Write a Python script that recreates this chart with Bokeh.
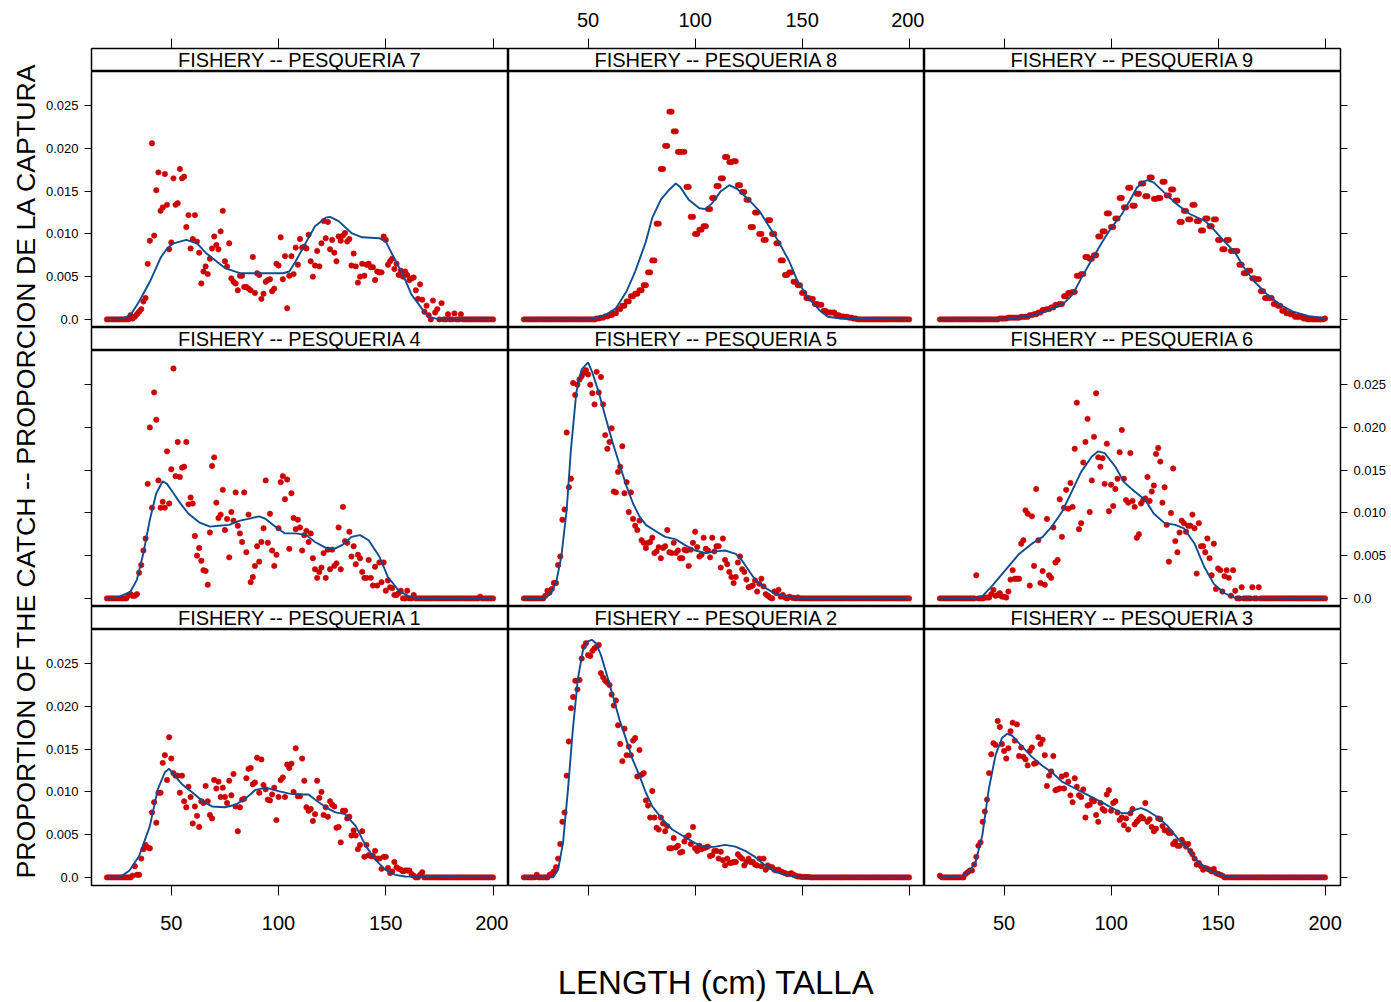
from math import pi
from bokeh.plotting import figure
from bokeh.layouts import row, column
from bokeh.models import Range1d, LinearAxis, FixedTicker, CustomJSTickFormatter, Label
from bokeh.embed import file_html
from bokeh.resources import INLINE

# ---------------- data (proportions x 1000) ----------------
LEN_1CM = list(range(20, 201))        # length bins, 1 cm

P7 = [0,0,0,0,0,0,0,0,0,0,
      0,0.5,0.1,0.3,0.6,0.9,1.2,2.1,2.5,6.5,
      9.2,20.6,9.8,15.1,17.2,12.7,13.1,17.0,13.4,8.2,
      9.0,16.5,13.4,13.6,17.6,16.5,16.7,10.8,12.2,8.3,
      9.4,12.2,9.1,7.8,4.2,5.6,6.2,5.3,7.1,8.3,
      9.7,8.7,8.2,10.3,12.7,6.8,6.2,8.9,4.8,4.4,
      4.2,3.4,5.1,5.1,3.8,3.8,3.6,3.4,7.3,3.1,
      5.4,5.2,2.4,3.0,4.4,4.6,4.7,3.3,3.6,6.5,
      6.3,9.6,4.7,7.4,1.3,5.1,7.4,5.3,8.4,6.4,
      9.4,8.4,8.5,8.3,9.9,6.8,5.0,6.3,8.0,6.2,
      8.9,11.5,9.5,11.4,8.2,9.3,7.8,6.8,9.7,9.2,
      9.8,10.1,9.1,9.4,6.3,7.7,6.2,4.3,5.0,6.5,
      5.1,6.4,6.5,6.1,6.1,4.6,5.6,5.5,5.5,9.7,
      9.3,6.4,6.8,7.1,5.9,6.5,5.2,5.7,5.0,5.6,
      5.2,4.6,4.8,4.9,3.4,2.4,4.1,2.3,0.9,1.6,
      0.5,0,2.2,0.8,1.2,0,1.9,0,0,0.6,
      0,0,0.7,0,0,0.6,0,0,0,0,
      0,0,0,0,0,0,0,0,0,0,
      0]

P8 = [0,0,0,0,0,0,0,0,0,0,
      0,0,0,0,0,0,0,0,0,0,
      0,0,0,0,0,0,0,0,0,0,
      0,0,0,0,
      0.1,0.1,0.2,0.2,0.35,0.35,0.5,0.5,0.7,0.7,1.2,1.2,1.6,1.6,2.1,2.1,2.7,2.7,3.0,3.0,
      3.4,3.4,4.0,4.0,5.5,5.5,6.9,6.9,11.2,11.2,17.6,17.6,20.3,20.3,24.3,24.3,22.0,22.0,19.6,19.6,
      19.6,19.6,15.5,15.5,12.0,12.0,10.0,10.0,10.5,10.5,10.9,10.9,12.9,12.9,14.2,14.2,15.6,15.6,16.5,16.5,
      19.0,19.0,18.4,18.4,18.5,18.5,15.7,15.7,14.9,14.9,14.0,14.0,10.8,10.8,12.5,12.5,10.0,10.0,9.3,9.3,
      11.6,11.6,10.0,10.0,8.9,8.9,6.9,6.9,5.2,5.2,5.5,5.5,4.4,4.4,4.0,4.0,3.1,3.1,2.5,2.5,
      2.4,2.4,1.8,1.8,1.7,1.7,1.0,1.0,0.8,0.8,0.8,0.8,0.5,0.5,0.35,0.35,0.3,0.3,0.2,0.2,
      0.1,0.1,
      0,0,0,0,0,0,0,0,0,0,0,0,0,0,0,0,0,0,0,0,0,0,0,0,0]

P9 = [0,0,0,0,0,0,0,0,0,0,
      0,0,0,0,0,0,0,0,0,0,
      0,0,0,0,0,0,0,0,
      0.1,0.1,0.1,0.1,0.2,0.2,0.2,0.2,0.2,0.2,0.3,0.3,0.3,0.3,0.5,0.5,0.6,0.6,0.8,0.8,
      1.1,1.1,1.2,1.2,1.4,1.4,1.7,1.7,1.8,1.8,2.7,2.7,3.1,3.1,3.2,3.2,5.1,5.1,5.3,5.3,
      7.3,7.3,7.1,7.1,7.5,7.5,9.7,9.7,10.3,10.3,12.4,12.4,10.8,10.8,11.8,11.8,14.2,14.2,13.1,13.1,
      15.4,15.4,13.3,13.3,14.7,14.7,15.9,15.9,14.4,14.4,16.6,16.6,14.1,14.1,14.2,14.2,16.1,16.1,14.5,14.5,
      15.2,15.2,13.9,13.9,11.4,11.4,12.7,12.7,11.7,11.7,13.4,13.4,11.5,11.5,10.4,10.4,11.8,11.8,10.9,10.9,
      11.7,11.7,9.3,9.3,8.2,8.2,9.3,9.3,8.0,8.0,8.0,8.0,6.4,6.4,5.4,5.4,5.7,5.7,4.8,4.8,
      4.7,4.7,3.3,3.3,2.5,2.5,2.5,2.5,1.8,1.8,1.6,1.6,1.0,1.0,0.7,0.7,0.6,0.6,0.3,0.3,
      0.3,0.3,0.1,0.1,0,0,0,0,0,0,0,0,
      0.1]

P4 = [0,0,0,0,0,0,0,0,0,0,
      0.3,0.5,0.3,0.3,0.5,3.0,3.9,5.6,7.0,13.4,
      20.0,10.6,24.1,20.9,13.8,10.6,11.3,10.6,17.2,11.1,
      15.1,26.9,14.3,18.3,14.2,15.3,15.4,18.3,11.0,11.8,
      11.1,7.3,5.0,5.9,4.4,3.3,3.2,1.6,7.7,15.5,
      16.5,11.2,9.4,9.8,12.7,8.0,9.3,4.8,10.1,9.1,
      12.4,8.5,7.6,6.6,12.4,5.4,9.8,1.9,2.5,3.8,
      6.1,4.3,6.6,8.2,13.8,6.5,9.9,5.6,3.8,5.1,
      8.2,13.6,14.3,11.6,13.9,5.8,12.3,9.4,8.1,9.2,
      8.3,5.6,7.4,7.9,6.6,7.6,4.7,3.4,2.4,3.1,
      3.6,5.3,2.4,5.7,3.4,5.7,3.8,4.1,8.3,3.4,
      10.7,6.7,6.5,7.8,4.9,6.1,4.0,5.1,4.7,3.1,
      2.4,2.4,4.5,2.4,1.5,3.7,1.5,4.2,1.9,4.2,
      0.9,2.1,1.3,1.2,0.4,0.4,0.6,0.9,0,0,
      0.9,0,0,0.4,0,0,0,0,0,0,
      0,0,0,0,0,0,0,0,0,0,
      0,0,0,0,0,0,0,0,0,0,
      0,0,0,0,0.2,0,0,0,0,0,
      0]

P5 = [0,0,0,0,0,0,0,0,0,0,
      0.3,0.9,0.7,1.1,1.8,1.8,3.9,4.9,9.2,10.4,
      19.4,13.0,14.0,25.2,23.8,25.0,25.6,26.0,26.4,26.7,
      26.2,25.0,24.0,22.7,26.5,24.1,25.9,22.7,19.1,17.5,
      18.3,19.9,12.5,12.4,14.8,15.4,17.8,12.3,13.6,10.1,
      12.4,9.3,8.5,8.0,9.1,6.8,6.5,5.9,6.5,6.6,
      7.1,5.3,5.5,6.0,4.7,5.9,6.1,8.0,5.4,5.3,
      6.5,5.3,5.6,4.7,4.7,5.7,5.6,3.8,5.7,6.5,
      7.8,6.0,4.9,5.1,7.1,5.8,5.6,4.8,7.1,5.5,
      6.1,6.1,3.6,7.0,4.5,4.0,3.1,2.5,1.8,2.5,
      4.2,4.9,3.4,3.1,2.2,1.3,1.4,1.5,2.1,0.8,
      1.7,2.3,1.4,0.5,0.3,0.1,0,0.8,0.6,1.0,
      0.2,0.4,0.1,0,0.2,0.1,0.05,0,0.1,0,
      0,0,0,0,0,0,0,0,0,0,
      0,0,0,0,0,0,0,0,0,0,
      0,0,0,0,0,0,0,0,0,0,
      0,0,0,0,0,0,0,0,0,0,
      0,0,0,0,0,0,0,0,0,0,
      0]

P6 = [0,0,0,0,0,0,0,0,0,0,
      0,0,0,0,0,0,0,2.7,0,0,
      0,0.1,0.1,0.1,0.5,1.0,0.3,0.4,0.6,0.2,
      0.2,0.1,0.8,2.2,3.3,2.3,2.3,2.3,6.4,6.8,
      10.3,9.9,1.5,9.6,3.8,12.8,6.8,1.8,3.2,1.6,
      9.3,2.7,2.4,8.3,4.2,4.5,11.6,7.2,10.6,12.7,
      10.5,13.5,10.7,17.5,22.9,8.1,8.8,15.9,18.3,21.0,
      10.1,13.8,18.9,24.0,16.5,15.4,16.4,13.4,18.1,10.2,
      13.3,10.8,12.8,14.0,17.1,19.7,14.0,11.5,11.2,17.0,
      11.4,10.7,7.1,7.5,11.1,11.5,11.7,14.2,11.4,12.5,
      13.2,16.9,17.6,16.0,11.2,13.0,8.6,4.3,10.0,15.2,
      6.7,5.4,7.7,9.1,8.8,7.8,8.5,8.5,9.8,8.2,
      2.9,8.8,6.1,6.1,5.4,7.0,4.7,2.7,6.4,1.1,
      3.5,3.3,0.8,2.6,3.3,2.4,0.3,3.3,0.9,0,
      0,1.3,0,0,0,0,1.3,0,0,1.3,
      0,0,0,0,0,0,0,0,0,0,
      0,0,0,0,0,0,0,0,0,0,
      0,0,0,0,0,0,0,0,0,0,
      0]

P1 = [0,0,0,0,0,0,0,0,0,0,
      0,0,0.2,1.3,0.3,0.3,2.2,3.3,3.8,3.5,
      3.4,7.6,8.8,6.4,9.9,9.9,13.4,14.3,11.4,16.4,
      13.9,12.2,11.9,11.9,9.9,11.9,8.9,8.2,10.6,9.4,
      6.3,8.3,7.2,5.9,8.9,8.7,10.7,8.9,7.3,6.9,
      11.4,10.4,11.2,9.4,10.5,9.4,8.7,11.3,9.6,12.1,
      8.3,5.4,8.2,9.1,9.2,11.6,12.7,12.8,10.9,11.1,
      14.0,9.9,13.8,10.8,10.3,9.1,9.0,9.7,10.5,6.7,
      9.4,11.4,11.7,9.4,13.2,12.8,13.3,10.0,15.1,9.5,
      9.5,13.9,11.3,8.2,7.8,8.0,6.6,7.4,11.3,9.3,
      10.0,7.3,8.2,7.1,8.9,8.5,8.3,5.8,5.9,4.1,
      7.8,7.8,6.9,7.1,4.9,5.5,4.9,3.3,3.8,5.4,
      2.4,3.8,2.6,2.5,2.5,3.1,2.2,2.2,1.0,2.4,
      2.4,1.1,0.5,0.7,1.8,1.2,1.0,0.9,0.7,0.8,
      0.8,0.8,0.4,0.2,0,0,0.3,0.6,0,0,
      0,0,0,0,0,0,0,0,0,0,
      0,0,0,0,0,0,0,0,0,0,
      0,0,0,0,0,0,0,0,0,0,
      0]

P2 = [0,0,0,0,0,0,0.3,0,0,0,
      0,0,0.3,0.4,0.7,1.2,2.2,3.9,6.5,7.6,
      11.9,15.9,19.8,21.1,23.0,22.0,23.1,25.6,27.0,27.4,
      26.0,25.9,26.5,26.8,27.0,27.2,23.9,23.4,23.0,22.8,
      22.5,21.4,20.1,20.7,17.8,15.6,13.6,17.4,14.3,15.3,
      14.3,16.0,16.3,11.8,14.9,12.0,12.2,9.0,8.4,7.0,
      10.1,7.0,5.8,5.6,7.0,6.3,5.4,6.0,3.4,3.4,
      4.6,3.5,3.7,2.9,3.0,4.2,4.7,4.9,3.9,5.9,
      3.4,3.1,3.7,3.3,3.4,3.5,3.6,2.5,2.6,3.1,
      3.1,2.2,3.0,2.0,1.4,2.2,1.7,1.7,1.8,1.8,
      2.7,2.4,2.2,1.4,1.8,2.2,1.8,1.8,1.5,1.4,
      2.2,1.3,2.2,0.9,1.4,1.2,1.2,0.9,0.8,0.9,
      0.7,0.6,0.5,0.4,0.4,0.5,0.3,0.2,0.1,0.1,
      0.05,0.05,0.05,0.05,0,0,0,0,0,0,
      0,0,0,0,0,0,0,0,0,0,
      0,0,0,0,0,0,0,0,0,0,
      0,0,0,0,0,0,0,0,0,0,
      0,0,0,0,0,0,0,0,0,0,
      0]

P3 = [0.2,0,0,0,0,0,0,0,0,0,
      0,0,0.4,0.6,0.8,0.8,1.5,2.4,3.7,4.1,
      6.5,7.7,9.1,12.2,14.4,15.7,15.5,18.3,17.6,15.6,
      14.8,13.9,15.1,17.1,18.1,16.0,17.9,14.2,15.2,14.1,
      13.8,13.1,14.8,15.2,13.3,13.4,16.4,15.6,16.1,14.3,
      10.7,11.9,12.4,14.2,10.2,10.3,10.4,11.8,10.4,12.0,
      11.2,9.6,8.8,11.6,10.6,9.6,9.4,10.3,7.0,8.4,
      8.5,9.1,8.9,7.3,6.5,8.7,8.0,7.8,9.7,10.2,
      7.8,8.7,8.9,7.6,6.7,7.0,6.1,6.9,5.6,7.5,
      8.0,6.2,6.5,6.8,7.1,6.9,8.7,6.5,6.8,5.9,
      5.4,5.7,6.9,6.8,6.0,5.5,5.5,5.2,5.2,3.9,
      4.2,3.7,3.7,4.4,4.0,3.6,3.9,3.1,2.7,2.2,
      1.5,1.7,1.3,0.9,1.1,1.0,0.9,0.7,1.0,0.5,
      0.4,0.3,0.2,0,0,0,0,0,0,0,
      0,0,0,0,0,0,0,0,0,0,
      0,0,0,0,0,0,0,0,0,0,
      0,0,0,0,0,0,0,0,0,0,
      0,0,0,0,0,0,0,0,0,0,
      0]

# fitted curves (length, proportion x 1000)
C7X = [20,26,31,35,40,45,48,51,57,62,66,71,75,82,91,102,105,108,113,117,122,124,128,134,139,147,150,153,158,162,167,170,175,200]
C7Y = [0,0,0.5,2.1,4.4,7.2,8.3,8.9,9.3,8.9,7.8,6.8,6.0,5.4,5.4,5.4,5.6,6.8,9.1,10.9,11.9,12.0,11.5,10.1,9.6,9.5,9.1,7.6,5.2,2.9,1.2,0.3,0,0]
C8X = [20,51,58,63,68,72,77,80,84,88,91,93,97,102,105,108,112,116,120,125,130,134,139,144,148,153,158,162,168,200]
C8Y = [0,0,0.5,1.3,3.3,5.6,9.1,11.9,14.0,15.2,15.9,15.5,14.0,13.0,12.9,13.6,15.0,15.7,15.2,14.0,12.7,11.1,9.1,6.8,4.4,2.5,1.1,0.3,0.1,0]
C9X = [20,51,60,68,74,78,82,86,91,96,100,105,109,112,115,117,120,125,131,137,144,148,153,158,162,167,173,179,185,192,200]
C9Y = [0,0,0.3,0.8,1.4,1.9,2.9,4.8,7.0,9.1,10.7,12.3,14.0,15.4,16.1,16.3,16.0,14.8,13.4,12.3,11.5,10.5,9.1,7.8,6.1,4.4,2.9,1.7,0.9,0.4,0.1]
C4X = [20,26,31,34,37,40,43,46,48,51,54,58,63,68,72,77,82,86,91,94,99,103,108,113,117,122,126,130,134,138,142,147,151,156,161,165,200]
C4Y = [0,0.2,0.8,2.2,5.3,9.2,12.3,13.7,13.4,12.3,11.2,9.9,8.9,8.4,8.5,8.6,9.1,9.3,9.6,9.3,8.3,7.6,7.6,7.4,6.6,5.9,5.8,6.3,7.2,7.4,6.8,4.9,2.5,0.9,0.2,0,0]
C5X = [20,29,32,35,37.5,40,42,44.5,47,50,52,55,58,61.5,65,68,71,74,77,82,86,91,95.5,100,105,109.5,114,119,122,125,128,133,137,142,148,200]
C5Y = [0,0,0.4,1.8,4.9,10.4,17.5,24.1,26.8,27.6,26.4,24.1,21.3,18.2,15.4,13.1,11.1,9.6,8.6,7.8,7.2,6.9,6.2,5.6,5.3,5.5,5.6,5.2,4.4,3.3,2.2,1.2,0.6,0.3,0,0]
C6X = [20,36,40,44.5,50.6,57,63,68,72,77,82,86,91,94,97,102,106,111,116,120,125,130,134,139,143.5,148,153,157.5,200]
C6Y = [0,0,0.3,1.5,3.3,5.2,6.4,7.2,8.3,10.1,12.7,14.8,16.6,17.2,17.0,15.4,13.6,12.5,11.5,9.9,8.8,8.6,8.2,6.4,3.7,1.7,0.6,0.1,0]
C1X = [20,26,30.5,35,40,43.7,47,49,51.5,55,60,64.6,69,75,80,85,89,94,100,105,109.5,114,117,122,126.5,131,136,140.4,145,149.7,154.4,159,200]
C1Y = [0,0,0.8,2.5,6.0,10.3,12.3,12.7,11.9,10.9,9.9,8.9,8.3,8.2,8.5,9.3,10.2,10.5,10.1,9.8,9.7,9.7,9.1,8.2,7.6,7.4,6.0,3.8,2.1,0.9,0.3,0.1,0]
C2X = [20,33.6,36,38.3,40.6,42.9,45.2,47.6,49.9,51.7,53.7,56,58.4,61.5,64.6,67.7,70.8,74,77,80,84.7,89.3,94,100,104.8,109.5,114,118.8,123.4,128,132.7,137.3,142,148,200]
C2Y = [0,0,0.9,4.1,10.3,17.4,23.2,26.6,27.6,27.8,27.4,26.0,24.0,21.3,18.5,16.2,13.8,11.9,9.9,8.3,6.8,5.6,4.9,4.0,3.5,3.6,3.8,3.6,3.1,2.4,1.4,0.7,0.3,0,0]
C3X = [20,30.5,33.6,36.7,39.8,42.9,46,49,51.4,53.7,58.4,63,67.7,72.3,77,81.6,86.3,91,95.5,100,105,108,111,114,117,122,126.5,131,136,140.4,145,150,154.4,160,200]
C3Y = [0,0.2,0.6,1.8,4.9,10.4,14.3,16.3,16.8,16.6,15.3,14.1,13.1,12.3,11.2,10.6,10.0,9.4,8.8,8.2,7.5,7.5,7.9,8.1,7.8,7.0,6.0,4.6,3.3,1.9,0.9,0.4,0.1,0,0]

X_TICKS = [50, 100, 150, 200]
Y_TICKS = [0.0, 0.005, 0.010, 0.015, 0.020, 0.025]
STRIP_TEXT = "FISHERY -- PESQUERIA "
X_TITLE = "LENGTH (cm) TALLA"
Y_TITLE = "PROPORTION OF THE CATCH -- PROPORCION DE LA CAPTURA"

PANELS = {
    7: (LEN_1CM, P7, C7X, C7Y), 8: (LEN_1CM, P8, C8X, C8Y), 9: (LEN_1CM, P9, C9X, C9Y),
    4: (LEN_1CM, P4, C4X, C4Y), 5: (LEN_1CM, P5, C5X, C5Y), 6: (LEN_1CM, P6, C6X, C6Y),
    1: (LEN_1CM, P1, C1X, C1Y), 2: (LEN_1CM, P2, C2X, C2Y), 3: (LEN_1CM, P3, C3X, C3Y),
}
for k, (lx, ly, cx, cy) in PANELS.items():
    assert len(lx) == len(ly), (k, len(lx), len(ly))
    assert len(cx) == len(cy), (k, len(cx), len(cy))

GRID = [[7, 8, 9], [4, 5, 6], [1, 2, 3]]

# ---------------- style / geometry ----------------
FONT = "Liberation Sans"
RED = "#CD0000"
BLUE = "#0E4D8F"
XMIN, XMAX = 12.8, 207.2
YMIN, YMAX = -0.00095, 0.0290
FW = [417, 416, 416]
FH = 256
SH = 23
LB, RB, TB, BB = 52, 50, 48, 55
YT_W = 39
XT_H = 61
TOTAL_H = TB + 3 * (SH + FH) + BB + XT_H
TOTAL_W = LB + sum(FW) + RB


def make_fig(ci, fh, top, bottom, y_range):
    p = figure(title=None, x_range=Range1d(XMIN, XMAX), y_range=y_range,
               frame_width=FW[ci], frame_height=fh,
               min_border_left=LB if ci == 0 else 0,
               min_border_right=RB if ci == 2 else 0,
               min_border_top=top, min_border_bottom=bottom,
               x_axis_type=None, y_axis_type=None,
               toolbar_location=None, output_backend="svg")
    p.outline_line_color = "black"
    p.outline_line_width = 1.5
    p.background_fill_color = "white"
    p.border_fill_color = "white"
    return p


def x_axis(labels, standoff):
    ax = LinearAxis(ticker=FixedTicker(ticks=X_TICKS, minor_ticks=[]),
                    major_tick_in=0, major_tick_out=10,
                    major_tick_line_color="black", major_tick_line_width=1,
                    minor_tick_line_color=None, axis_line_color=None,
                    major_label_text_font=FONT, major_label_text_font_size="20px",
                    major_label_text_color="black", major_label_standoff=standoff)
    if not labels:
        ax.formatter = CustomJSTickFormatter(code="return '';")
    return ax


def y_axis(labels):
    ax = LinearAxis(ticker=FixedTicker(ticks=Y_TICKS, minor_ticks=[]),
                    major_tick_in=0, major_tick_out=7,
                    major_tick_line_color="black", major_tick_line_width=1,
                    minor_tick_line_color=None, axis_line_color=None,
                    major_label_text_font=FONT, major_label_text_font_size="13px",
                    major_label_text_color="black", major_label_standoff=6)
    if labels:
        ax.formatter = CustomJSTickFormatter(code="return tick == 0 ? '0.0' : tick.toFixed(3);")
    else:
        ax.formatter = CustomJSTickFormatter(code="return '';")
    return ax


rows = []
for ri, grid_row in enumerate(GRID):
    strips, panels = [], []
    for ci, k in enumerate(grid_row):
        # strip
        s = make_fig(ci, SH, TB if ri == 0 else 0, 0, Range1d(0, 1))
        s.add_layout(Label(x=(XMIN + XMAX) / 2, y=0.5, text=STRIP_TEXT + str(k),
                           text_align="center", text_baseline="middle",
                           text_font=FONT, text_font_size="20px", text_color="black"))
        if ri == 0:
            s.add_layout(x_axis(ci == 1, 12), "above")
        strips.append(s)
        # panel
        lx, ly, cx, cy = PANELS[k]
        p = make_fig(ci, FH, 0, BB if ri == 2 else 0, Range1d(YMIN, YMAX))
        p.scatter([float(v) for v in lx], [v / 1000.0 for v in ly], size=5.4,
                  fill_color=RED, line_color=RED, line_width=0.6)
        p.line(cx, [v / 1000.0 for v in cy], line_color=BLUE, line_width=1.9)
        if ci == 0:
            p.add_layout(y_axis(ri != 1), "left")
        if ci == 2:
            p.add_layout(y_axis(ri == 1), "right")
        if ri == 2:
            p.add_layout(x_axis(ci != 1, 20), "below")
        panels.append(p)
    rows.append(row(*strips))
    rows.append(row(*panels))

# x title
xt = figure(title=None, x_range=Range1d(0, TOTAL_W), y_range=Range1d(0, XT_H),
            frame_width=TOTAL_W, frame_height=XT_H, min_border=0,
            x_axis_type=None, y_axis_type=None, toolbar_location=None,
            output_backend="svg", outline_line_color=None)
xt.add_layout(Label(x=LB + sum(FW) / 2, y=19, text=X_TITLE, text_align="center",
                    text_baseline="middle", text_font=FONT,
                    text_font_size="33px", text_color="black"))
rows.append(xt)

# y title
yt = figure(title=None, x_range=Range1d(0, YT_W), y_range=Range1d(0, TOTAL_H),
            frame_width=YT_W, frame_height=TOTAL_H, min_border=0,
            x_axis_type=None, y_axis_type=None, toolbar_location=None,
            output_backend="svg", outline_line_color=None)
yt.add_layout(Label(x=25, y=TOTAL_H - 470, text=Y_TITLE,
                    angle=pi / 2, text_align="center", text_baseline="middle",
                    text_font=FONT, text_font_size="26.7px", text_color="black"))

layout = row(yt, column(*rows))

open("out.html", "w").write(file_html(layout, INLINE))
